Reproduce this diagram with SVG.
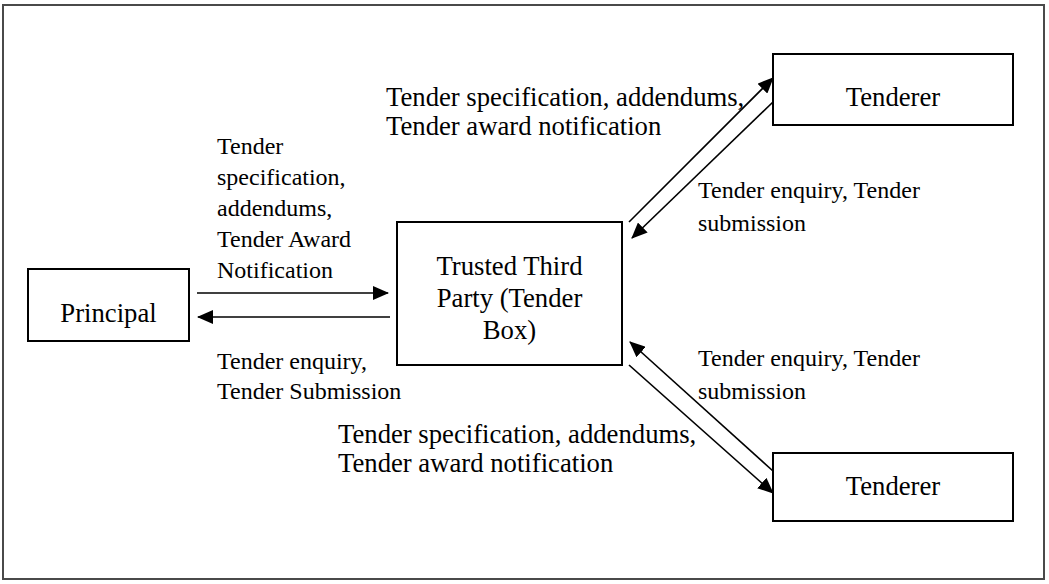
<svg xmlns="http://www.w3.org/2000/svg" width="1049" height="584" viewBox="0 0 1049 584">
<style>
.box{fill:#fff;stroke:#000;stroke-width:2}
.big{font-family:"Liberation Serif","Times New Roman",serif;font-size:26.7px;fill:#000}
.sm{font-family:"Liberation Serif","Times New Roman",serif;font-size:24px;fill:#000}
.c{text-anchor:middle}
.con{stroke:#000;stroke-width:1.6;fill:none;marker-end:url(#ah)}
</style>
<defs>
<marker id="ah" markerUnits="userSpaceOnUse" markerWidth="16" markerHeight="14" refX="15" refY="7" orient="auto">
<path d="M0,0 L16,7 L0,14 Z" fill="#000"/>
</marker>
</defs>
<rect x="3" y="5" width="1041" height="574" fill="#fff" stroke="#4a4a4a" stroke-width="2"/>
<g id="principal">
<rect class="box" x="28" y="269" width="161" height="72"/>
<text class="big c" x="108.5" y="322">Principal</text>
</g>
<g id="ttp">
<rect class="box" x="397" y="222" width="225" height="143"/>
<text class="big c" x="509.5" y="275">Trusted Third</text>
<text class="big c" x="509.5" y="307">Party (Tender</text>
<text class="big c" x="509.5" y="339">Box)</text>
</g>
<g id="tenderer-top">
<rect class="box" x="773" y="54" width="240" height="71"/>
<text class="big c" x="893" y="106">Tenderer</text>
</g>
<g id="tenderer-bottom">
<rect class="box" x="773" y="453" width="240" height="68"/>
<text class="big c" x="893" y="495">Tenderer</text>
</g>
<g id="connectors">
<line class="con" x1="197" y1="293" x2="388" y2="293"/>
<line class="con" x1="390" y1="317" x2="198" y2="317"/>
<line class="con" x1="629" y1="222" x2="773" y2="78"/>
<line class="con" x1="773" y1="102" x2="632" y2="238"/>
<line class="con" x1="773" y1="471" x2="630" y2="342"/>
<line class="con" x1="629" y1="365" x2="773" y2="493"/>
</g>
<g id="labels">
<text class="sm" x="217" y="154">Tender</text>
<text class="sm" x="217" y="185">specification,</text>
<text class="sm" x="217" y="216">addendums,</text>
<text class="sm" x="217" y="247">Tender Award</text>
<text class="sm" x="217" y="278">Notification</text>
<text class="sm" x="217" y="369">Tender enquiry,</text>
<text class="sm" x="217" y="399">Tender Submission</text>
<text class="big" x="386" y="106">Tender specification, addendums,</text>
<text class="big" x="386" y="135">Tender award notification</text>
<text class="sm" x="698" y="198">Tender enquiry, Tender</text>
<text class="sm" x="698" y="231">submission</text>
<text class="sm" x="698" y="366">Tender enquiry, Tender</text>
<text class="sm" x="698" y="399">submission</text>
<text class="big" x="338" y="443">Tender specification, addendums,</text>
<text class="big" x="338" y="472">Tender award notification</text>
</g>
</svg>
